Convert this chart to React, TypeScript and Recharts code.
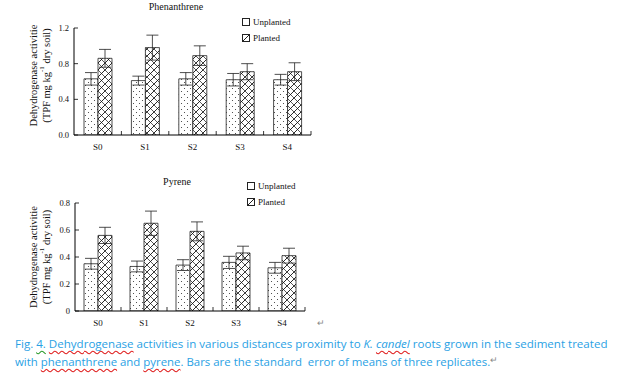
import React, { useLayoutEffect, useRef, useState } from 'react';
import { BarChart, Bar, XAxis, YAxis, ErrorBar, Legend } from 'recharts';

const categories = ['S0', 'S1', 'S2', 'S3', 'S4'];

const phenUnplanted = [0.63, 0.61, 0.63, 0.62, 0.62];
const phenUnplantedErr = [0.07, 0.05, 0.07, 0.07, 0.06];
const phenPlanted = [0.86, 0.98, 0.89, 0.71, 0.71];
const phenPlantedErr = [0.1, 0.14, 0.11, 0.09, 0.1];

const pyrUnplanted = [0.35, 0.33, 0.34, 0.36, 0.32];
const pyrUnplantedErr = [0.04, 0.04, 0.04, 0.045, 0.04];
const pyrPlanted = [0.56, 0.65, 0.59, 0.43, 0.41];
const pyrPlantedErr = [0.06, 0.09, 0.07, 0.05, 0.055];

const phenTicks = [0, 0.4, 0.8, 1.2];
const phenTickLabels = ['0.0', '0.4', '0.8', '1.2'];
const pyrTicks = [0, 0.2, 0.4, 0.6, 0.8];
const pyrTickLabels = ['0', '0.2', '0.4', '0.6', '0.8'];

const seriesNames = ['Unplanted', 'Planted'];

const phenData = categories.map((c, i) => ({
  cat: c,
  u: phenUnplanted[i],
  uErr: phenUnplantedErr[i],
  p: phenPlanted[i],
  pErr: phenPlantedErr[i],
}));
const pyrData = categories.map((c, i) => ({
  cat: c,
  u: pyrUnplanted[i],
  uErr: pyrUnplantedErr[i],
  p: pyrPlanted[i],
  pErr: pyrPlantedErr[i],
}));

const SERIF = '"Liberation Serif", "Times New Roman", serif';

function Patterns({ id }: { id: string }) {
  return (
    <defs>
      <pattern id={`dots-${id}`} width="6" height="6" patternUnits="userSpaceOnUse">
        <rect width="6" height="6" fill="#fff" />
        <circle cx="1.5" cy="1.5" r="0.55" fill="#333" />
        <circle cx="4.5" cy="4.5" r="0.55" fill="#333" />
      </pattern>
      <pattern id={`hatch-${id}`} width="7" height="7" patternUnits="userSpaceOnUse">
        <rect width="7" height="7" fill="#fff" />
        <path d="M-1,8 L8,-1 M-1,1 L1,-1 M6,8 L8,6" stroke="#111" strokeWidth="0.9" />
        <path d="M0,0 L7,7" stroke="#111" strokeWidth="0.7" />
      </pattern>
    </defs>
  );
}

function makeXTick(band: number) {
  return (props: any) => {
    const { x, y, payload } = props;
    return (
      <g>
        <line x1={x + band / 2} x2={x + band / 2} y1={y} y2={y - 4} stroke="#000" strokeWidth={0.8} />
        <text x={x} y={y + 15} textAnchor="middle" fontFamily={SERIF} fontSize={9} fill="#111">
          {payload.value}
        </text>
      </g>
    );
  };
}

function makeYTick(ticks: number[], labels: string[]) {
  return (props: any) => {
    const { x, y, payload } = props;
    const idx = ticks.indexOf(payload.value);
    return (
      <g>
        <line x1={x} x2={x + 4} y1={y} y2={y} stroke="#000" strokeWidth={0.8} />
        <text x={x - 5} y={y + 3} textAnchor="end" fontFamily={SERIF} fontSize={8.5} fill="#111">
          {idx >= 0 ? labels[idx] : payload.value}
        </text>
      </g>
    );
  };
}

function makeYLabel(dy: number) {
  return (props: any) => {
    const vb = props.viewBox || {};
    const cy = vb.y + vb.height / 2 + dy;
    return (
      <g fontFamily={SERIF} fontSize={10.5} fill="#111">
        <text x={33} y={cy} textAnchor="middle" dominantBaseline="central" transform={`rotate(-90 33 ${cy})`}>
          Dehydrogenase activitie
        </text>
        <text x={46} y={cy} textAnchor="middle" dominantBaseline="central" transform={`rotate(-90 46 ${cy})`}>
          (TPF mg kg
          <tspan baselineShift="super" fontSize={7}>-1</tspan> dry soil)
        </text>
      </g>
    );
  };
}

function makeLegend() {
  return () => (
    <div style={{ fontFamily: SERIF, fontSize: 9, color: '#111', lineHeight: '16px' }}>
      {seriesNames.map((n, i) => (
        <div key={n} style={{ display: 'flex', alignItems: 'center', height: 16 }}>
          <svg width={8} height={8} style={{ marginRight: 3 }}>
            <rect x={0.5} y={0.5} width={7} height={7} fill="#fff" stroke="#222" strokeWidth={1} />
            {i === 1 && <path d="M1,7 L7,1" stroke="#222" strokeWidth={1} />}
          </svg>
          <span>{n}</span>
        </div>
      ))}
    </div>
  );
}

type PanelProps = {
  id: string;
  data: any[];
  top: number;
  height: number;
  marginTop: number;
  marginRight: number;
  yWidth: number;
  domain: [number, number];
  ticks: number[];
  labels: string[];
  legendLeft: number;
  legendTop: number;
  labelDy: number;
};

function Panel(p: PanelProps) {
  const width = 330;
  const plotW = width - p.marginRight - p.yWidth;
  const band = plotW / categories.length;
  return (
    <div style={{ position: 'absolute', left: 0, top: p.top, width, height: p.height }}>
      <BarChart
        width={width}
        height={p.height}
        data={p.data}
        margin={{ top: p.marginTop, right: p.marginRight, bottom: 0, left: 0 }}
        barSize={14}
        barGap={0}
      >
        <Patterns id={p.id} />
        <XAxis
          dataKey="cat"
          height={25}
          tickLine={false}
          tickSize={0}
          tickMargin={0}
          axisLine={{ stroke: '#000', strokeWidth: 1 }}
          tick={makeXTick(band)}
          interval={0}
        />
        <YAxis
          width={p.yWidth}
          domain={p.domain}
          ticks={p.ticks}
          interval={0}
          tickLine={false}
          tickSize={0}
          tickMargin={0}
          axisLine={{ stroke: '#000', strokeWidth: 1 }}
          tick={makeYTick(p.ticks, p.labels)}
          allowDataOverflow
          label={{ content: makeYLabel(p.labelDy) } as any}
        />
        <Legend
          layout="vertical"
          align="center"
          verticalAlign="middle"
          content={makeLegend()}
          wrapperStyle={{ position: 'absolute', left: p.legendLeft, top: p.legendTop, width: 80, height: 32 }}
        />
        <Bar
          dataKey="u"
          name={seriesNames[0]}
          fill={`url(#dots-${p.id})`}
          stroke="#222"
          strokeWidth={0.8}
          isAnimationActive={false}
        >
          <ErrorBar dataKey="uErr" width={6} stroke="#222" strokeWidth={0.8} direction="y" />
        </Bar>
        <Bar
          dataKey="p"
          name={seriesNames[1]}
          fill={`url(#hatch-${p.id})`}
          stroke="#222"
          strokeWidth={0.8}
          isAnimationActive={false}
        >
          <ErrorBar dataKey="pErr" width={6} stroke="#222" strokeWidth={0.8} direction="y" />
        </Bar>
      </BarChart>
    </div>
  );
}

function FitLine({ width, left, top, children }: { width: number; left: number; top: number; children: React.ReactNode }) {
  const ref = useRef<HTMLDivElement>(null);
  const [s, setS] = useState(1);
  useLayoutEffect(() => {
    if (ref.current) {
      const w = ref.current.offsetWidth;
      if (w > 0) setS(width / w);
    }
  }, [width]);
  return (
    <div
      ref={ref}
      style={{
        position: 'absolute',
        left,
        top,
        whiteSpace: 'nowrap',
        transform: `scaleX(${s})`,
        transformOrigin: '0 0',
        fontFamily: '"Open Sans", "Noto Sans", sans-serif',
        fontSize: 10.5,
        color: '#29a1e4',
        lineHeight: '14px',
      }}
    >
      {children}
    </div>
  );
}

const wavyRed: React.CSSProperties = {
  textDecorationLine: 'underline',
  textDecorationStyle: 'wavy',
  textDecorationColor: '#e02020',
  textUnderlineOffset: 2,
};
const wavyGreen: React.CSSProperties = { ...wavyRed, textDecorationColor: '#2a9a2a' };

export default function App() {
  return (
    <div
      style={{
        position: 'absolute',
        left: 0,
        top: 0,
        width: 623,
        height: 380,
        background: '#fff',
        overflow: 'hidden',
      }}
    >
      <div
        style={{ position: 'absolute', left: 126, top: 1, width: 100, textAlign: 'center', fontFamily: SERIF, fontSize: 10, color: '#111' }}
      >
        Phenanthrene
      </div>
      <div
        style={{ position: 'absolute', left: 127, top: 176, width: 100, textAlign: 'center', fontFamily: SERIF, fontSize: 10, color: '#111' }}
      >
        Pyrene
      </div>
      <Panel
        id="phen"
        data={phenData}
        top={0}
        height={160}
        marginTop={28}
        marginRight={19}
        yWidth={74}
        domain={[0, 1.2]}
        ticks={phenTicks}
        labels={phenTickLabels}
        legendLeft={242}
        legendTop={14}
        labelDy={-6}
      />
      <Panel
        id="pyr"
        data={pyrData}
        top={160}
        height={176}
        marginTop={43}
        marginRight={25}
        yWidth={75}
        domain={[0, 0.8]}
        ticks={pyrTicks}
        labels={pyrTickLabels}
        legendLeft={247}
        legendTop={18}
        labelDy={0}
      />
      <div style={{ position: 'absolute', left: 317, top: 318, fontSize: 9, color: '#888', fontFamily: 'sans-serif' }}>↵</div>
      <FitLine width={593} left={15} top={337}>
        Fig. <span style={wavyGreen}>4.</span> <span style={wavyRed}>Dehydrogenase</span> activities in various distances proximity to{' '}
        <i>K. <span style={wavyRed}>candel</span></i> roots grown in the sediment treated
      </FitLine>
      <FitLine width={475} left={15} top={355}>
        with <span style={wavyRed}>phenanthrene</span> and <span style={wavyRed}>pyrene</span>. Bars are the standard&nbsp; error of means of three replicates.
      </FitLine>
      <div style={{ position: 'absolute', left: 490, top: 355, fontSize: 9, color: '#888', fontFamily: 'sans-serif' }}>↵</div>
    </div>
  );
}
